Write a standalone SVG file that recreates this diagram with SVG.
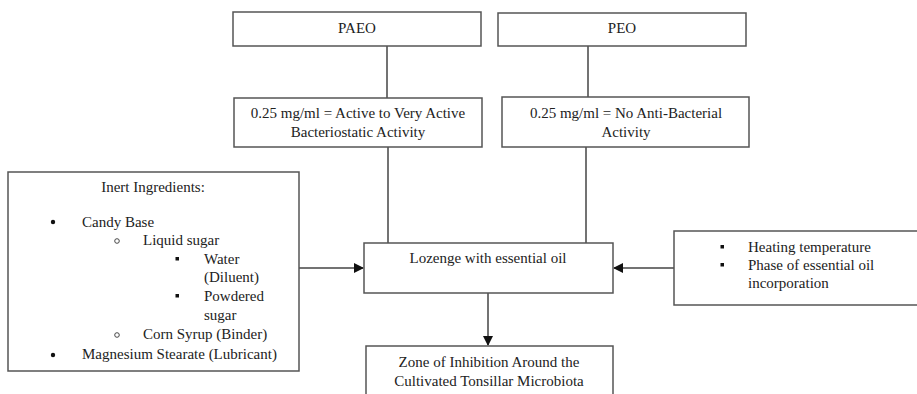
<svg xmlns="http://www.w3.org/2000/svg" width="917" height="394" viewBox="0 0 917 394">
<style>
.box{fill:#fff;stroke:#555;stroke-width:1.5}
.ln{stroke:#444;stroke-width:1.5;fill:none}
text{font-family:'Liberation Serif','DejaVu Serif',serif;font-size:15px;fill:#222}
.c{text-anchor:middle}
</style>
<defs>
<marker id="ah" markerWidth="10" markerHeight="10" refX="9" refY="5" orient="auto" markerUnits="userSpaceOnUse">
<path d="M0,0 L10,5 L0,10 Z" fill="#111"/>
</marker>
</defs>
<rect width="917" height="394" fill="#fff"/>
<g id="connectors">
<line class="ln" x1="387" y1="46" x2="387" y2="98"/>
<line class="ln" x1="588" y1="46" x2="588" y2="97"/>
<line class="ln" x1="388" y1="147" x2="388" y2="243"/>
<line class="ln" x1="586" y1="147" x2="586" y2="243"/>
<line class="ln" x1="299" y1="268" x2="363" y2="268" marker-end="url(#ah)"/>
<line class="ln" x1="674" y1="268" x2="614" y2="268" marker-end="url(#ah)"/>
<line class="ln" x1="488" y1="293" x2="488" y2="345" marker-end="url(#ah)"/>
</g>
<g id="paeo">
<rect class="box" x="233" y="12" width="248" height="34"/>
<text class="c" x="357" y="33">PAEO</text>
</g>
<g id="peo">
<rect class="box" x="498" y="13" width="248" height="33"/>
<text class="c" x="622" y="33">PEO</text>
</g>
<g id="paeo-activity">
<rect class="box" x="234" y="98" width="248" height="49"/>
<text class="c" x="358" y="118">0.25 mg/ml = Active to Very Active</text>
<text class="c" x="358" y="137">Bacteriostatic Activity</text>
</g>
<g id="peo-activity">
<rect class="box" x="502" y="97" width="247" height="50"/>
<text class="c" x="626" y="118">0.25 mg/ml = No Anti-Bacterial</text>
<text class="c" x="626" y="137">Activity</text>
</g>
<g id="inert">
<rect class="box" x="8" y="172" width="291" height="199"/>
<text class="c" x="153" y="192">Inert Ingredients:</text>
<circle cx="53" cy="222" r="2.2" fill="#111"/>
<text x="82" y="227">Candy Base</text>
<circle cx="117" cy="241" r="2.3" fill="none" stroke="#333" stroke-width="0.9"/>
<text x="143" y="245">Liquid sugar</text>
<rect x="175.5" y="257" width="3.5" height="3.5" fill="#111"/>
<text x="204" y="264">Water</text>
<text x="204" y="282">(Diluent)</text>
<rect x="175.5" y="294" width="3.5" height="3.5" fill="#111"/>
<text x="204" y="301">Powdered</text>
<text x="204" y="320">sugar</text>
<circle cx="117" cy="335" r="2.3" fill="none" stroke="#333" stroke-width="0.9"/>
<text x="143" y="339">Corn Syrup (Binder)</text>
<circle cx="53" cy="355" r="2.2" fill="#111"/>
<text x="82" y="359">Magnesium Stearate (Lubricant)</text>
</g>
<g id="lozenge">
<rect class="box" x="364" y="243" width="249" height="50"/>
<text class="c" x="488" y="263">Lozenge with essential oil</text>
</g>
<g id="factors">
<rect class="box" x="674" y="231" width="250" height="74"/>
<rect x="720.5" y="245" width="3.5" height="3.5" fill="#111"/>
<text x="748" y="252">Heating temperature</text>
<rect x="720.5" y="263" width="3.5" height="3.5" fill="#111"/>
<text x="748" y="270">Phase of essential oil</text>
<text x="748" y="288">incorporation</text>
</g>
<g id="zone">
<rect class="box" x="366" y="346" width="247" height="60"/>
<text class="c" x="489" y="367">Zone of Inhibition Around the</text>
<text class="c" x="489" y="386">Cultivated Tonsillar Microbiota</text>
</g>
</svg>
